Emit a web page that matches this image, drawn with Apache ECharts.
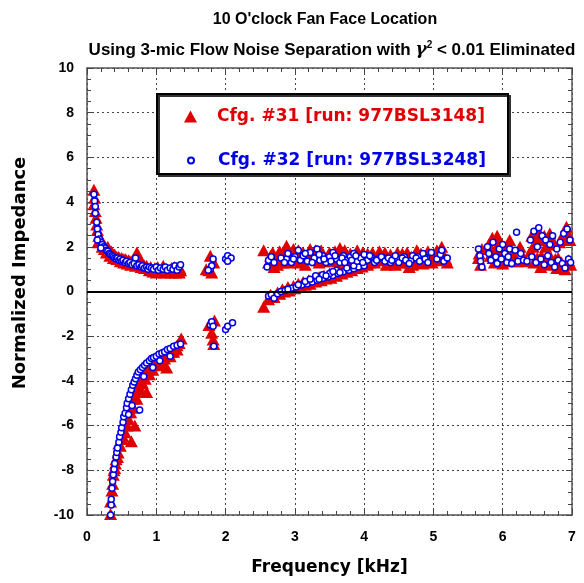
<!DOCTYPE html>
<html>
<head>
<meta charset="utf-8">
<script src="https://cdn.jsdelivr.net/npm/echarts@6/dist/echarts.min.js"></script>
<style>html,body{margin:0;padding:0;background:#fff}#c{width:584px;height:583px}</style>
</head>
<body>
<div id="c"></div>
<script>
var title1 = "10 O'clock Fan Face Location";
var title2 = "Using 3-mic Flow Noise Separation with {g|γ}{s|2} < 0.01 Eliminated";
var xName = "Frequency [kHz]";
var yName = "Normalized Impedance";
var name31 = "Cfg. #31 [run: 977BSL3148]";
var name32 = "Cfg. #32 [run: 977BSL3248]";
var xTicks = [0, 1, 2, 3, 4, 5, 6, 7];
var yTicks = [-10, -8, -6, -4, -2, 0, 2, 4, 6, 8, 10];

// Cfg. #31 (red triangles) [kHz, impedance]
var cfg31 = [
[0.10,4.55],[0.11,4.2],[0.10,3.9],[0.12,3.6],[0.13,3.3],[0.14,3.0],[0.15,2.75],[0.17,2.5],[0.16,2.2],[0.2,2.35],[0.22,2.0],[0.25,1.9],[0.28,1.75],[0.3,2.0],[0.33,1.6],[0.35,1.8],[0.38,1.5],[0.4,1.65],[0.43,1.45],[0.45,1.55],[0.48,1.35],[0.5,1.5],[0.53,1.3],[0.55,1.45],[0.58,1.25],[0.6,1.4],[0.63,1.2],[0.65,1.35],[0.68,1.25],[0.72,1.75],[0.7,1.15],[0.75,1.3],[0.78,1.1],[0.8,1.25],[0.83,1.05],[0.86,1.15],[0.9,0.95],[0.92,1.1],[0.95,0.9],[0.98,1.05],[1.0,0.85],[1.03,1.0],[1.06,0.9],[1.1,1.15],[1.12,0.85],[1.15,1.0],[1.18,0.9],[1.2,0.85],[1.22,1.05],[1.25,0.9],[1.28,0.85],[1.3,1.0],[1.33,0.85],[1.35,0.95],
[0.18,2.25],[0.23,2.1],[0.27,1.95],[0.32,1.8],[0.37,1.7],[0.42,1.55],[0.47,1.5],[0.52,1.45],[0.57,1.4],[0.62,1.35],[0.67,1.3],[0.74,1.6],[0.77,1.25],[0.82,1.2],[0.87,1.05],[0.93,1.0],[0.97,0.95],[1.02,1.1],[1.08,1.0],[1.14,0.9],[1.24,0.95],[1.32,0.9],[1.26,1.1],[1.34,1.05],
[1.72,1.0],[1.78,1.6],[1.8,0.85],[1.83,1.3],[1.76,0.95],
[0.34,-9.95],[0.34,-9.4],[0.37,-8.6],[0.38,-8.2],[0.40,-7.9],[0.42,-7.5],[0.45,-7.2],[0.46,-6.8],[0.5,-6.6],[0.52,-6.2],[0.55,-5.9],[0.57,-5.6],[0.6,-5.4],[0.62,-5.1],[0.64,-6.7],[0.69,-6.0],[0.65,-4.8],[0.7,-4.5],[0.74,-4.2],[0.78,-4.0],[0.86,-4.5],[0.82,-3.7],[0.88,-3.5],[0.92,-3.3],[0.96,-3.1],[1.0,-3.0],[1.05,-3.3],[1.1,-2.9],[1.15,-3.4],[1.18,-2.8],[1.22,-2.7],[1.27,-2.5],[1.3,-2.6],[1.33,-2.3],[1.36,-2.1],
[0.36,-8.9],[0.39,-8.0],[0.41,-7.7],[0.44,-7.4],[0.48,-6.9],[0.52,-6.5],[0.55,-6.3],[0.58,-6.0],[0.6,-5.7],[0.63,-5.4],[0.67,-5.2],[0.72,-4.8],[0.76,-4.4],[0.8,-4.1],[0.84,-3.9],[0.9,-3.7],[0.95,-3.5],[1.02,-3.2],[1.08,-3.1],[1.12,-3.0],[1.2,-2.9],[1.25,-2.7],[1.3,-2.4],
[1.76,-1.5],[1.8,-1.85],[1.82,-2.15],[1.83,-2.35],[1.84,-1.3],
[2.55,1.85],[2.55,-0.68],
[2.62,-0.35],[2.7,-0.25],[2.78,-0.1],[2.85,0.0],[2.92,0.05],[3.0,0.15],[3.08,0.22],[3.15,0.3],[3.22,0.35],[3.3,0.45],[3.38,0.5],[3.45,0.58],[3.52,0.62],[3.6,0.7],[3.68,0.8],[3.75,0.88],[3.82,0.95],[3.9,1.05],[3.97,1.12],[4.05,1.2],
[2.65,-0.15],[2.75,-0.05],[2.82,0.1],[2.9,0.2],[2.98,0.25],[3.05,0.35],[3.12,0.42],[3.2,0.5],[3.28,0.58],[3.35,0.65],[3.42,0.72],[3.5,0.8],[3.58,0.88],[3.65,0.95],[3.72,1.02],[3.8,1.1],[3.88,1.18],
[2.62,1.3],[2.65,1.6],[2.7,1.1],[2.72,1.45],[2.78,1.8],[2.82,1.3],[2.88,2.05],[2.9,1.55],[2.95,1.75],[3.0,1.4],[3.05,1.85],[3.1,1.6],[3.15,1.2],[3.2,1.7],[3.25,1.45],[3.3,1.85],[3.35,1.3],[3.4,1.65],[3.45,1.5],[3.5,1.75],[3.55,1.35],[3.6,1.6],[3.65,1.95],[3.7,1.5],[3.75,1.3],[3.8,1.7],[3.85,1.45],[3.9,1.85],[3.95,1.55],[4.0,1.35],[4.05,1.7],[4.1,1.5],
[2.68,1.75],[2.75,1.2],[2.8,1.55],[2.85,1.7],[2.92,1.3],[2.98,1.9],[3.02,1.6],[3.08,1.3],[3.12,1.75],[3.18,1.5],[3.22,1.9],[3.28,1.6],[3.32,1.4],[3.38,1.85],[3.42,1.35],[3.48,1.6],[3.52,1.4],[3.58,1.8],[3.62,1.4],[3.68,1.65],[3.72,1.85],[3.78,1.45],[3.82,1.55],[3.88,1.3],[3.92,1.6],[3.98,1.75],[4.02,1.5],[4.08,1.3],[4.12,1.75],
[4.15,1.3],[4.2,1.6],[4.25,1.4],[4.3,1.75],[4.35,1.3],[4.4,1.5],[4.45,1.2],[4.5,1.45],[4.55,1.7],[4.6,1.3],[4.65,1.1],[4.68,1.55],[4.72,1.35],[4.76,1.85],[4.8,1.5],[4.85,1.25],[4.9,1.6],[4.95,1.4],[5.0,1.55],[5.05,1.85],[5.1,1.4],[5.15,1.6],[5.2,1.3],
[4.18,1.45],[4.22,1.8],[4.28,1.5],[4.32,1.2],[4.38,1.65],[4.42,1.4],[4.48,1.75],[4.52,1.3],[4.58,1.55],[4.62,1.75],[4.7,1.2],[4.74,1.6],[4.78,1.3],[4.82,1.7],[4.88,1.45],[4.92,1.8],[4.98,1.3],[5.08,1.6],[5.12,2.0],[5.18,1.45],
[5.65,1.5],[5.7,1.9],[5.68,1.2],[5.66,1.7],
[5.8,2.1],[5.82,1.6],[5.85,2.4],[5.88,1.3],[5.9,1.85],[5.95,2.2],[5.98,1.5],[6.0,1.25],[6.02,2.0],[6.05,1.6],[6.1,2.3],[6.12,1.35],[6.15,1.7],
[5.82,2.0],[5.86,1.5],[5.92,2.5],[6.0,1.7],[6.08,2.1],[6.15,1.4],
[6.2,1.35],[6.25,2.0],[6.3,1.5],[6.33,1.35],
[6.4,1.8],[6.42,2.5],[6.45,1.3],[6.48,2.2],[6.5,1.5],[6.52,2.7],[6.55,1.1],[6.58,2.3],[6.6,1.4],[6.62,2.0],[6.65,1.2],[6.68,2.6],[6.7,1.5],[6.72,1.3],[6.75,2.1],[6.78,1.05],[6.8,1.5],[6.82,2.2],[6.85,1.3],[6.88,2.6],[6.9,1.0],[6.92,2.9],[6.95,1.4],[6.97,2.3],[6.98,1.2],
[6.44,2.0],[6.5,2.4],[6.56,1.6],[6.6,2.5],[6.64,1.5],[6.7,2.35],[6.76,1.45],[6.84,1.2],[6.86,2.35],[6.94,2.6],[6.96,1.3]
];

// Cfg. #32 (blue open circles) [kHz, impedance]
var cfg32 = [
[0.10,4.35],[0.11,4.05],[0.12,3.8],[0.12,3.5],[0.14,3.1],[0.15,2.8],[0.16,2.55],[0.18,2.35],[0.2,2.2],[0.22,2.1],[0.24,2.0],[0.26,1.95],[0.28,1.85],[0.3,1.8],[0.32,1.7],[0.34,1.65],[0.36,1.6],[0.38,1.55],[0.4,1.5],[0.42,1.45],[0.44,1.5],[0.46,1.4],[0.48,1.45],[0.5,1.35],[0.52,1.4],[0.55,1.3],[0.57,1.35],[0.6,1.25],[0.62,1.3],[0.65,1.2],[0.68,1.25],[0.7,1.5],[0.72,1.15],[0.75,1.2],[0.78,1.1],[0.8,1.15],[0.83,1.05],[0.86,1.1],[0.88,1.0],[0.9,1.1],[0.93,1.05],[0.96,1.0],[1.0,1.1],[1.03,0.95],[1.06,1.05],[1.1,1.0],[1.13,1.1],[1.16,0.95],[1.2,1.05],[1.24,1.0],[1.27,1.15],[1.3,0.95],[1.33,1.1],[1.35,1.2],[0.15,2.3],[0.2,1.95],
[1.78,1.0],[1.8,1.15],[1.82,1.45],[1.75,0.95],
[2.0,1.45],[2.03,1.6],[2.08,1.5],[2.03,1.35],
[1.78,-1.5],[1.8,-1.35],[1.82,-1.55],[1.83,-2.45],
[2.0,-1.7],[2.03,-1.55],[2.1,-1.4],
[0.34,-10.0],[0.35,-9.55],[0.35,-9.3],[0.36,-8.8],[0.37,-8.5],[0.38,-8.2],[0.39,-7.95],[0.40,-7.7],[0.42,-7.4],[0.43,-7.2],[0.44,-7.0],[0.46,-6.75],[0.47,-6.5],[0.49,-6.3],[0.5,-6.1],[0.52,-5.85],[0.53,-5.6],[0.55,-5.45],[0.57,-5.2],[0.58,-5.0],[0.6,-4.8],[0.62,-4.6],[0.64,-4.4],[0.66,-4.2],[0.68,-4.05],[0.7,-3.9],[0.72,-3.75],[0.74,-3.6],[0.77,-3.5],[0.8,-3.4],[0.83,-3.3],[0.86,-3.2],[0.9,-3.1],[0.93,-3.0],[0.96,-2.95],[1.0,-2.9],[1.04,-2.8],[1.08,-2.75],[1.12,-2.7],[1.16,-2.6],[1.2,-2.55],[1.25,-2.45],[1.3,-2.4],[1.35,-2.35],[0.76,-5.3],[0.6,-5.5],[0.65,-5.1],[0.82,-3.8],[0.95,-3.4],[1.05,-3.1],[1.2,-2.9],
[2.62,-0.2],[2.66,-0.15],[2.7,-0.3],[2.75,-0.1],[2.8,0.0],[2.86,0.05],[2.95,0.15],[3.02,0.2],[3.1,0.29],[3.18,0.35],[3.25,0.42],[3.32,0.5],[3.4,0.58],[3.48,0.65],[3.55,0.72],[3.62,0.8],[3.7,0.88],[3.78,0.95],[3.85,1.02],[3.92,1.1],[4.0,1.15],[3.3,0.7],[3.5,0.8],[3.6,0.95],[3.4,0.75],
[2.9,0.1],[3.05,0.3],[3.15,0.45],[3.22,0.55],[3.35,0.55],[3.45,0.7],[3.55,0.9],[3.65,0.85],[3.75,1.05],[3.85,1.15],
[2.6,1.1],[2.62,1.4],[2.66,1.55],[2.7,1.3],[2.88,1.45],[2.9,1.7],[2.95,1.3],[3.0,1.55],[3.05,1.85],[3.08,1.4],[3.12,1.6],[3.18,1.35],[3.22,1.75],[3.28,1.5],[3.32,1.9],[3.36,1.4],[3.4,1.6],[3.45,1.3],[3.5,1.55],[3.55,1.75],[3.6,1.45],[3.65,1.3],[3.7,1.6],[3.75,1.4],[3.8,1.55],[3.85,1.7],[3.9,1.35],[3.95,1.5],[4.0,1.65],[4.05,1.4],[4.1,1.55],[4.15,1.3],[4.2,1.45],
[2.8,1.5],[2.85,1.3],[2.98,1.45],[3.15,1.7],[3.25,1.3],[3.35,1.65],[3.42,1.45],[3.52,1.35],[3.58,1.6],[3.68,1.5],[3.72,1.3],[3.82,1.4],[3.88,1.6],[3.98,1.3],[4.08,1.6],[4.18,1.4],[4.28,1.5],[4.38,1.3],[4.48,1.45],[4.58,1.55],[4.68,1.4],[4.78,1.55],[4.9,1.5],
[4.25,1.55],[4.3,1.35],[4.35,1.5],[4.4,1.4],[4.45,1.6],[4.5,1.3],[4.55,1.5],[4.6,1.4],[4.65,1.25],[4.7,1.6],[4.75,1.5],[4.8,1.35],[4.85,1.7],[4.88,1.45],[4.92,1.3],[4.97,1.75],[5.05,1.45],[5.1,1.65],[5.12,1.85],[5.15,1.35],[5.2,1.5],
[5.65,1.9],[5.67,1.6],[5.68,1.35],[5.7,1.1],
[5.78,2.0],[5.8,1.7],[5.83,1.4],[5.86,2.2],[5.9,1.55],[5.92,1.25],[5.95,1.9],[5.98,1.45],[6.0,2.1],[6.03,1.7],[6.06,1.3],[6.08,1.55],[6.1,1.9],[6.13,1.25],
[6.18,1.85],[6.2,2.65],[6.22,1.35],[6.26,1.7],[6.3,1.4],[6.35,1.35],
[6.4,2.3],[6.42,1.55],[6.45,2.7],[6.48,1.3],[6.5,2.0],[6.52,2.85],[6.55,1.45],[6.57,2.5],[6.6,1.2],[6.62,2.3],[6.65,1.6],[6.68,2.1],[6.7,1.3],[6.72,2.5],[6.75,1.1],[6.78,1.9],[6.8,1.4],[6.83,2.2],[6.86,1.25],[6.88,2.6],[6.9,1.05],[6.93,2.8],[6.95,1.45],[6.97,2.3],[6.98,1.3]
];

var RED = '#e00000', BLUE = '#0000e6';
var chart = echarts.init(document.getElementById('c'), null, {renderer: 'canvas'});

function axisCommon(showLabel, isX) {
  return {
    axisLine: {show: true, onZero: false, lineStyle: {color: '#555', width: 1.5}},
    axisTick: {show: true, inside: true, length: 6, lineStyle: {color: '#444', width: 1}},
    minorTick: {show: true, splitNumber: isX ? 5 : 4, length: 4, lineStyle: {color: '#444', width: 1}},
    axisLabel: {show: showLabel, color: '#000', fontFamily: 'Liberation Sans', fontWeight: 'bold', fontSize: 14, margin: isX ? 15 : 13}
  };
}

var xMain = Object.assign({
  type: 'value', min: xTicks[0], max: xTicks[xTicks.length - 1], interval: 1, position: 'bottom',
  name: xName, nameLocation: 'middle', nameGap: 44,
  nameTextStyle: {fontFamily: 'DejaVu Sans', fontWeight: 'bold', fontSize: 17, color: '#000'},
  splitLine: {show: true, lineStyle: {color: '#444', type: [2, 3], width: 1}}
}, axisCommon(true, true));
var xTop = Object.assign({
  type: 'value', min: xTicks[0], max: xTicks[xTicks.length - 1], interval: 1, position: 'top', splitLine: {show: false}
}, axisCommon(false, true));
var yMain = Object.assign({
  type: 'value', min: yTicks[0], max: yTicks[yTicks.length - 1], interval: 2, position: 'left',
  splitLine: {show: true, lineStyle: {color: '#444', type: [2, 3], width: 1}}
}, axisCommon(true, false));
var yRight = Object.assign({
  type: 'value', min: yTicks[0], max: yTicks[yTicks.length - 1], interval: 2, position: 'right', splitLine: {show: false}
}, axisCommon(false, false));

var option = {
  animation: false,
  backgroundColor: '#fff',
  title: [
    {text: title1, left: 320, top: 7, textAlign: 'center',
     textStyle: {fontFamily: 'Liberation Sans', fontWeight: 'bold', fontSize: 16, color: '#000'}},
    {text: title2, left: 327, top: 35, textAlign: 'center',
     textStyle: {fontFamily: 'Liberation Sans', fontWeight: 'bold', fontSize: 17, color: '#000', lineHeight: 20,
       rich: {
         g: {fontFamily: 'DejaVu Serif', fontStyle: 'italic', fontWeight: 'bold', fontSize: 17, color: '#000', lineHeight: 20},
         s: {fontFamily: 'Liberation Sans', fontWeight: 'bold', fontSize: 10, color: '#000', verticalAlign: 'top', lineHeight: 20}
       }}}
  ],
  grid: {left: 87, right: 12, top: 68, bottom: 68, containLabel: false, outerBoundsMode: 'none'},
  xAxis: [xMain, xTop],
  yAxis: [yMain, yRight],
  legend: [
    {data: [{name: name31, icon: 'triangle'}], left: 179, top: 103, z: 20, itemWidth: 13, itemHeight: 12,
     selectedMode: false,
     textStyle: {color: RED, fontFamily: 'DejaVu Sans', fontWeight: 'bold', fontSize: 17, padding: [0, 0, 0, 15]}},
    {data: [{name: name32, icon: 'circle'}], left: 182, top: 147, z: 20, itemWidth: 6, itemHeight: 6,
     selectedMode: false,
     textStyle: {color: BLUE, fontFamily: 'DejaVu Sans', fontWeight: 'bold', fontSize: 17, padding: [0, 0, 0, 19]}}
  ],
  graphic: [
    {type: 'rect', z: 10, shape: {x: 157, y: 94, width: 351, height: 80},
     style: {fill: '#fff', stroke: '#000', lineWidth: 2, shadowColor: '#333', shadowOffsetX: 2, shadowOffsetY: 2, shadowBlur: 0}},
    {type: 'text', z: 10, x: 20, y: 273, rotation: Math.PI / 2,
     style: {text: yName, x: 0, y: 0, align: 'center', verticalAlign: 'middle',
       font: 'bold 18px "DejaVu Sans"', fill: '#000'}}
  ],
  series: [
    {name: name31, type: 'scatter', xAxisIndex: 0, yAxisIndex: 0, data: cfg31,
     symbol: 'triangle', symbolSize: [13, 12], itemStyle: {color: RED, opacity: 1}, z: 2,
     markLine: {silent: true, symbol: 'none', label: {show: false},
       lineStyle: {color: '#000', width: 2, type: 'solid'}, data: [{yAxis: 0}]}},
    {name: name32, type: 'scatter', xAxisIndex: 0, yAxisIndex: 0, data: cfg32,
     symbol: 'circle', symbolSize: 6, itemStyle: {color: '#fff', borderColor: BLUE, borderWidth: 1.5, opacity: 1}, z: 3}
  ]
};
chart.setOption(option);
</script>
</body>
</html>
